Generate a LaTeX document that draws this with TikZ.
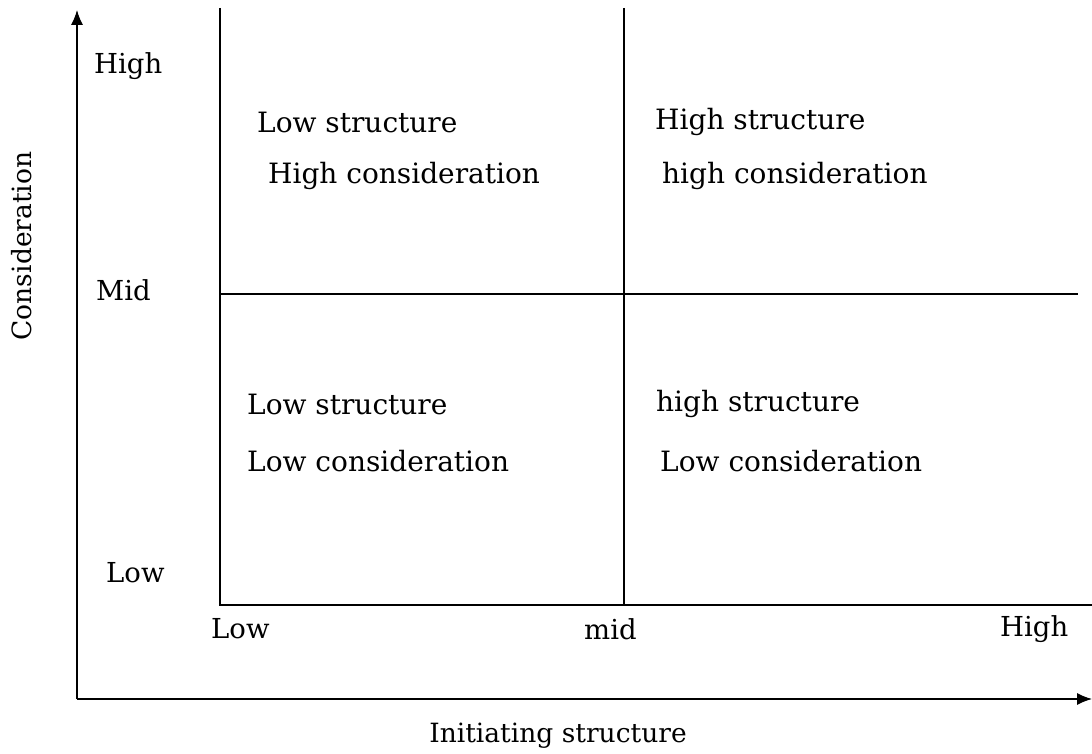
\documentclass[tikz,border=0pt]{standalone}
\usepackage{fontspec}
\setmainfont{DejaVu Serif}
\usetikzlibrary{arrows.meta}
\begin{document}
\begin{tikzpicture}[x=1pt,y=-1pt,
  axis/.style={line width=1.2pt,-{Latex[length=15pt,width=12pt]}},
  grid/.style={line width=1.1pt},
  lbl/.style={font=\fontsize{27.5}{32}\selectfont,inner sep=0pt,anchor=west},
  quad/.style={font=\fontsize{28}{32}\selectfont,inner sep=0pt,anchor=west},
  title/.style={font=\fontsize{26.5}{31}\selectfont,inner sep=0pt}]
\useasboundingbox (0,0) rectangle (1092,754);
% axes
\coordinate (O) at (77,699);
\coordinate (ytop) at (77,10);
\coordinate (xend) at (1092,699);
\draw[axis] (O) -- (ytop);
\draw[axis] (O) -- (xend);
% grid frame
\coordinate (ltop) at (220,8);
\coordinate (lbot) at (220,605);
\coordinate (rbot) at (1092,605);
\coordinate (mtop) at (624,8);
\coordinate (mbot) at (624,605);
\coordinate (hl) at (220,294);
\coordinate (hr) at (1078,294);
\draw[grid] (ltop) -- (lbot) -- (rbot);
\draw[grid] (mtop) -- (mbot);
\draw[grid] (hl) -- (hr);
% axis tick labels
\node[lbl] (yhigh) at (94,66) {High};
\node[lbl] (ymid) at (96,290) {Mid};
\node[lbl] (ylow) at (106,573) {Low};
\node[lbl] (xlow) at (211,629) {Low};
\node[lbl] (xmid) at (584,629) {mid};
\node[lbl] (xhigh) at (1000,629) {High};
% axis titles
\node[title,rotate=90] (ytitle) at (22,246) {Consideration};
\node[title] (xtitle) at (558,736) {Initiating structure};
% quadrant texts
\node[quad] (q1a) at (257,122) {Low structure};
\node[quad] (q1b) at (268,176) {High consideration};
\node[quad] (q2a) at (655,122) {High structure};
\node[quad] (q2b) at (662,176) {high consideration};
\node[quad] (q3a) at (247,404) {Low structure};
\node[quad] (q3b) at (247,461) {Low consideration};
\node[quad] (q4a) at (656,404) {high structure};
\node[quad] (q4b) at (660,461) {Low consideration};
\end{tikzpicture}
\end{document}
